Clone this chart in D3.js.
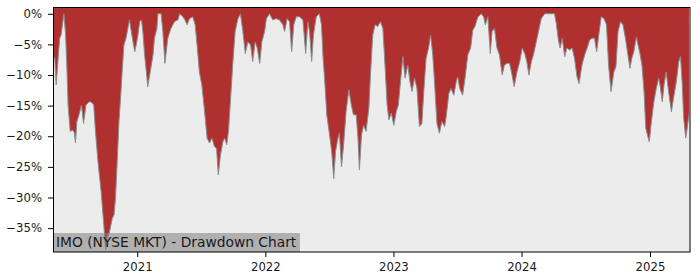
<!DOCTYPE html>
<html>
<head>
<meta charset="utf-8">
<script src="https://cdn.jsdelivr.net/npm/d3@7"></script>
<style>
body { margin: 0; background: #fff; }
svg { display: block; font-family: "DejaVu Sans", sans-serif; }
</style>
</head>
<body>
<svg id="chart" width="700" height="280"></svg>
<script>
// ==================================
// data (drawdown in %)
// ==================================
var dates = [
	"2020-05-06","2020-05-11","2020-05-15","2020-05-20","2020-05-25","2020-05-29","2020-06-06","2020-06-11",
	"2020-06-15","2020-06-18","2020-06-24","2020-07-02","2020-07-06","2020-07-09","2020-07-13","2020-07-19",
	"2020-07-26","2020-08-01","2020-08-08","2020-08-16","2020-08-23","2020-08-30","2020-09-04","2020-09-11",
	"2020-09-20","2020-09-27","2020-10-03","2020-10-08","2020-10-14","2020-10-22","2020-10-27","2020-10-31",
	"2020-11-05","2020-11-10","2020-11-15","2020-11-19","2020-11-24","2020-11-30","2020-12-10","2020-12-15",
	"2020-12-20","2020-12-25","2020-12-29","2021-01-03","2021-01-08","2021-01-13","2021-01-17","2021-01-22",
	"2021-01-27","2021-01-31","2021-02-07","2021-02-15","2021-02-19","2021-02-26","2021-03-01","2021-03-10",
	"2021-03-15","2021-03-21","2021-03-29","2021-04-07","2021-04-17","2021-04-27","2021-05-02","2021-05-11",
	"2021-05-17","2021-05-23","2021-05-30","2021-06-08","2021-06-15","2021-06-21","2021-06-27","2021-07-04",
	"2021-07-12","2021-07-19","2021-07-26","2021-08-02","2021-08-09","2021-08-15","2021-08-20","2021-08-26",
	"2021-09-02","2021-09-07","2021-09-13","2021-09-18","2021-09-24","2021-09-30","2021-10-07","2021-10-15",
	"2021-10-22","2021-10-29","2021-11-05","2021-11-12","2021-11-20","2021-11-26","2021-12-03","2021-12-09",
	"2021-12-16","2021-12-22","2021-12-30","2022-01-04","2022-01-13","2022-01-22","2022-02-01","2022-02-10",
	"2022-02-20","2022-02-25","2022-03-04","2022-03-11","2022-03-17","2022-03-23","2022-03-30","2022-04-08",
	"2022-04-18","2022-04-26","2022-05-02","2022-05-07","2022-05-13","2022-05-18","2022-05-26","2022-06-04",
	"2022-06-10","2022-06-14","2022-06-20","2022-06-25","2022-07-03","2022-07-09","2022-07-15","2022-07-20",
	"2022-07-27","2022-07-31","2022-08-06","2022-08-12","2022-08-19","2022-08-27","2022-09-03","2022-09-09",
	"2022-09-17","2022-09-22","2022-09-26","2022-10-02","2022-10-08","2022-10-15","2022-10-23","2022-10-28",
	"2022-11-03","2022-11-10","2022-11-17","2022-11-25","2022-12-02","2022-12-09","2022-12-14","2022-12-19",
	"2022-12-26","2023-01-02","2023-01-09","2023-01-15","2023-01-21","2023-01-28","2023-02-03","2023-02-11",
	"2023-02-17","2023-02-23","2023-03-02","2023-03-09","2023-03-16","2023-03-23","2023-03-29","2023-04-04",
	"2023-04-11","2023-04-17","2023-04-23","2023-04-28","2023-05-05","2023-05-12","2023-05-19","2023-05-27",
	"2023-06-01","2023-06-08","2023-06-14","2023-06-22","2023-06-29","2023-07-03","2023-07-09","2023-07-17",
	"2023-07-24","2023-08-01","2023-08-09","2023-08-15","2023-08-21","2023-08-30","2023-09-08","2023-09-15",
	"2023-09-20","2023-09-27","2023-10-04","2023-10-09","2023-10-16","2023-10-23","2023-10-30","2023-11-07",
	"2023-11-13","2023-11-20","2023-11-28","2023-12-05","2023-12-11","2023-12-19","2023-12-27","2024-01-03",
	"2024-01-10","2024-01-16","2024-01-22","2024-01-29","2024-02-04","2024-02-12","2024-02-19","2024-02-26",
	"2024-03-07","2024-03-21","2024-04-04","2024-04-09","2024-04-15","2024-04-20","2024-04-26","2024-05-03",
	"2024-05-09","2024-05-17","2024-05-24","2024-05-31","2024-06-07","2024-06-13","2024-06-21","2024-06-29",
	"2024-07-06","2024-07-13","2024-07-20","2024-07-27","2024-08-02","2024-08-08","2024-08-15","2024-08-23",
	"2024-08-30","2024-09-05","2024-09-12","2024-09-20","2024-09-26","2024-10-02","2024-10-09","2024-10-16",
	"2024-10-23","2024-10-30","2024-11-05","2024-11-10","2024-11-16","2024-11-23","2024-11-28","2024-12-04",
	"2024-12-09","2024-12-15","2024-12-20","2024-12-26","2024-12-30","2025-01-05","2025-01-12","2025-01-19",
	"2025-01-26","2025-01-31","2025-02-05","2025-02-10","2025-02-16","2025-02-23","2025-03-03","2025-03-09",
	"2025-03-17","2025-03-24","2025-03-29","2025-04-03","2025-04-07","2025-04-13","2025-04-17","2025-04-22"
];

var drawdown = [
	-6.7,-7.3,-11.6,-7.8,-4.0,-3.5,0,-3.5,
	-9.5,-14.9,-19.2,-19.0,-19.5,-21.1,-17.6,-16.5,
	-14.9,-17.9,-14.9,-14.4,-14.4,-14.9,-19.2,-24.1,
	-29.0,-33.9,-38.5,-36.6,-35.6,-33.4,-32.8,-30.1,
	-24.1,-17.6,-13.3,-9.5,-5.1,-4.0,-1.0,-2.9,
	-4.6,-6.2,-5.1,-3.5,-1.3,-1.0,-2.9,-6.7,
	-9.5,-11.9,-9.5,-6.7,-4.0,-2.4,0,0,
	-2.9,-8.1,-4.0,-2.4,-1.3,-1.0,0,-0.5,
	-1.0,-1.8,-0.8,-0.5,-1.8,-5.4,-9.5,-11.6,
	-16.0,-20.3,-21.1,-20.3,-21.7,-22.0,-26.3,-23.1,
	-20.9,-20.3,-21.4,-19.2,-13.8,-8.4,-2.9,-0.8,
	0,-2.9,-6.5,-4.6,-5.1,-7.8,-4.6,-5.6,
	-8.1,-4.6,-2.9,-0.8,0,-1.0,-0.8,-1.0,
	-1.8,-2.9,-0.8,-1.3,-6.2,-1.8,-0.5,-0.5,
	-1.0,-6.5,-1.3,-2.9,-7.8,-3.5,-0.5,0,
	-1.8,-6.7,-11.6,-16.5,-19.8,-22.5,-26.9,-22.5,
	-20.3,-19.5,-25.0,-21.4,-16.0,-12.4,-14.9,-16.5,
	-16.5,-20.3,-25.5,-19.8,-18.2,-19.2,-15.4,-9.5,
	-3.5,-1.8,-2.1,-1.3,-2.4,-9.5,-14.9,-17.3,
	-16.2,-18.2,-16.0,-14.9,-11.1,-7.0,-10.5,-8.4,
	-11.1,-12.7,-10.5,-12.2,-18.4,-17.9,-12.2,-7.3,
	-5.6,-3.5,-6.7,-11.1,-17.9,-19.5,-17.6,-18.4,
	-16.5,-13.0,-12.2,-13.3,-11.1,-10.3,-12.2,-13.3,
	-10.5,-6.7,-5.6,-2.7,-2.1,-0.5,0,-0.5,
	-1.8,-0.5,-6.5,-2.9,-2.4,-5.6,-6.7,-10.0,
	-8.4,-8.1,-8.1,-10.0,-11.9,-9.5,-7.8,-5.6,
	-6.5,-7.8,-10.0,-7.8,-6.7,-4.6,-2.7,-0.8,
	0,0,0,-1.6,-4.3,-5.6,-4.0,-7.0,
	-5.6,-5.9,-5.6,-7.3,-10.3,-11.4,-8.4,-6.7,
	-5.6,-4.3,-4.0,-4.0,-6.2,-3.5,-0.5,-0.8,
	-1.8,-8.4,-12.7,-9.5,-8.6,-2.9,-1.3,-1.8,
	-4.0,-6.7,-8.9,-7.3,-6.2,-3.8,-5.1,-6.7,
	-8.4,-12.7,-18.7,-20.1,-20.9,-17.6,-14.4,-12.2,
	-10.5,-12.2,-14.4,-11.6,-9.5,-12.7,-16.0,-13.8,
	-11.1,-7.8,-7.0,-11.6,-17.1,-20.3,-18.7,-16.5
];

var yTicks = [0, -5, -10, -15, -20, -25, -30, -35];
var xTickYears = ["2021", "2022", "2023", "2024", "2025"];
var xDomain = ["2020-05-06", "2025-04-25"];
var yDomain = [-38.9, 1.1];
var chartLabel = "IMO (NYSE MKT) - Drawdown Chart";

// ==================================
// layout
// ==================================
var W = 700, H = 280;
var margin = { top: 7, right: 10, bottom: 28, left: 53 };
var plotW = W - margin.left - margin.right;
var plotH = H - margin.top - margin.bottom;

var parseDate = d3.timeParse("%Y-%m-%d");

var series = dates.map(function(d, i) {
	return { date: parseDate(d), value: drawdown[i] };
});

var svg = d3.select("#chart");
var g = svg.append("g").attr("transform", "translate(" + margin.left + "," + margin.top + ")");

var x = d3.scaleTime()
	.domain(xDomain.map(parseDate))
	.range([0, plotW]);

var y = d3.scaleLinear()
	.domain(yDomain)
	.range([plotH, 0]);

// plot background
g.append("rect")
	.attr("width", plotW)
	.attr("height", plotH)
	.attr("fill", "#ececec");

// the red area hangs from the top of the axes down to the drawdown
var area = d3.area()
	.x(function(d) { return x(d.date); })
	.y0(y(yDomain[1]))
	.y1(function(d) { return y(d.value); });

g.append("path")
	.datum(series)
	.attr("d", area)
	.attr("fill", "#b03030");

var line = d3.line()
	.x(function(d) { return x(d.date); })
	.y(function(d) { return y(d.value); });

g.append("path")
	.datum(series)
	.attr("d", line)
	.attr("fill", "none")
	.attr("stroke", "#8c8c8c")
	.attr("stroke-width", 1);

// label box, bottom left (half transparent, so the deepest dip shows through)
var label = g.append("g").attr("transform", "translate(0," + (plotH - 19) + ")");
label.append("rect")
	.attr("width", 247)
	.attr("height", 19)
	.attr("fill", "#808080")
	.attr("fill-opacity", 0.55);
label.append("text")
	.attr("x", 3)
	.attr("y", 14.2)
	.attr("font-size", "13.8px")
	.attr("fill", "#1a1a1a")
	.text(chartLabel);

// ==================================
// axes
// ==================================
var yAxis = d3.axisLeft(y)
	.tickValues(yTicks)
	.tickSize(5)
	.tickPadding(6)
	.tickFormat(function(d) { return d === 0 ? "0%" : "\u2212" + Math.abs(d) + "%"; });

var xAxis = d3.axisBottom(x)
	.tickValues(xTickYears.map(function(s) { return parseDate(s + "-01-01"); }))
	.tickSize(5)
	.tickPadding(6)
	.tickFormat(d3.timeFormat("%Y"));

var gy = g.append("g").call(yAxis);
var gx = g.append("g").attr("transform", "translate(0," + plotH + ")").call(xAxis);

[gx, gy].forEach(function(ax) {
	ax.select(".domain").remove();
	ax.selectAll("text")
		.attr("font-family", "DejaVu Sans, sans-serif")
		.attr("font-size", "11.7px")
		.attr("fill", "#1a1a1a");
	ax.selectAll("line").attr("stroke", "#000");
});

// frame
g.append("rect")
	.attr("x", 0.5)
	.attr("y", 0.5)
	.attr("width", plotW - 0.5)
	.attr("height", plotH - 0.5)
	.attr("fill", "none")
	.attr("stroke", "#000")
	.attr("stroke-width", 1);
</script>
</body>
</html>
